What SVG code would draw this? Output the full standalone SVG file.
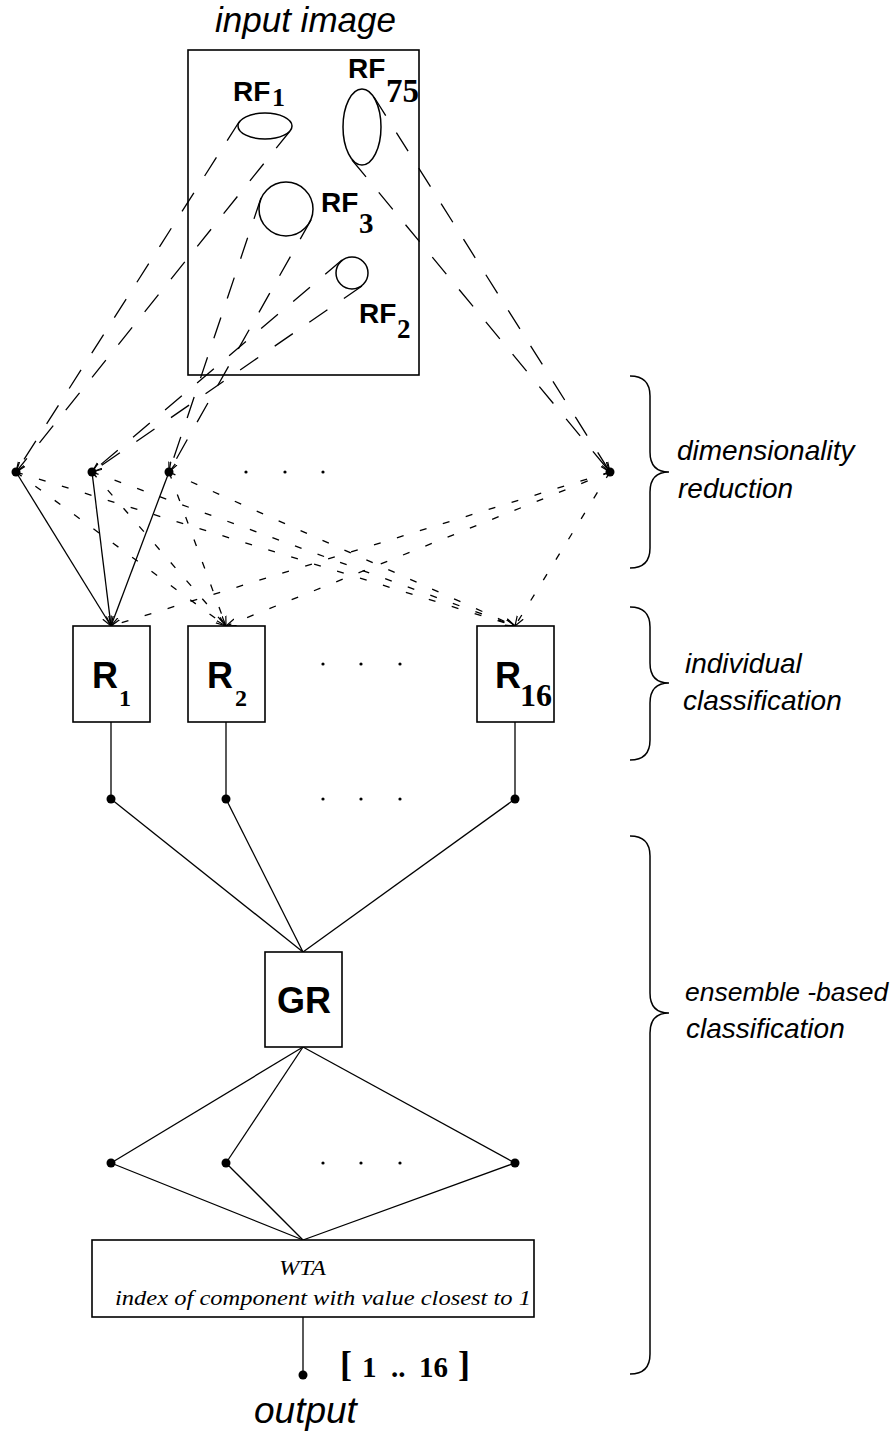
<svg xmlns="http://www.w3.org/2000/svg" width="896" height="1435" viewBox="0 0 896 1435">
<style>
.box{fill:#fff;stroke:#000;stroke-width:1.6}
.rf{fill:none;stroke:#000;stroke-width:1.5}
.ln{fill:none;stroke:#000;stroke-width:1.3}
.ld{fill:none;stroke:#000;stroke-width:1.3;stroke-dasharray:22 20}
.sd{fill:none;stroke:#000;stroke-width:1.3;stroke-dasharray:7 17}
.dot{fill:#000}
.sdot{fill:#000}
.brace{fill:none;stroke:#000;stroke-width:1.5}
.bsans{font-family:"Liberation Sans",Arial,sans-serif;font-weight:bold}
.bserif{font-family:"Liberation Serif","Times New Roman",serif;font-weight:bold}
.iserif{font-family:"Liberation Serif","Times New Roman",serif;font-style:italic}
.isans{font-family:"Liberation Sans",Arial,sans-serif;font-style:italic}
</style>
<defs>
<marker id="arr" viewBox="0 0 10 10" refX="10" refY="5" markerWidth="10" markerHeight="10" markerUnits="userSpaceOnUse" orient="auto">
<path d="M0,1.5 L10,5 L0,8.5" fill="none" stroke="#000" stroke-width="1.2" stroke-dasharray="none"/>
</marker>
</defs>
<rect width="896" height="1435" fill="#fff"/>

<g id="input-image">
<text class="isans" x="215" y="32" font-size="35">input image</text>
<rect class="box" x="188" y="50" width="231" height="325"/>
</g>
<g id="rf1">
<ellipse class="rf" cx="265" cy="126" rx="27" ry="13"/>
<text class="bsans" x="233" y="101" font-size="28">RF</text>
<text class="bserif" x="272" y="106" font-size="26">1</text>
</g>
<g id="rf75">
<ellipse class="rf" cx="362" cy="127" rx="19" ry="38"/>
<text class="bsans" x="348" y="78" font-size="28">RF</text>
<text class="bserif" x="386" y="102" font-size="33">75</text>
</g>
<g id="rf3">
<circle class="rf" cx="286" cy="209" r="27"/>
<text class="bsans" x="321" y="212" font-size="28">RF</text>
<text class="bserif" x="359" y="233" font-size="29">3</text>
</g>
<g id="rf2">
<circle class="rf" cx="352" cy="273" r="16"/>
<text class="bsans" x="359" y="323" font-size="28">RF</text>
<text class="bserif" x="397" y="338" font-size="27">2</text>
</g>

<g id="connectors">
<path class="ld" d="M239,122 L16,472" marker-end="url(#arr)"/>
<path class="ld" d="M290,131 L16,472" marker-end="url(#arr)"/>
<path class="ld" d="M261,198 L169,472" marker-end="url(#arr)"/>
<path class="ld" d="M311,220 L169,472" marker-end="url(#arr)"/>
<path class="ld" d="M342,260 L92,472" marker-end="url(#arr)"/>
<path class="ld" d="M362,286 L92,472" marker-end="url(#arr)"/>
<path class="ld" d="M374,97 L610,472" marker-end="url(#arr)"/>
<path class="ld" d="M352,160 L610,472" marker-end="url(#arr)"/>
<path class="ln" d="M16,472 L111,626" marker-end="url(#arr)"/>
<path class="ln" d="M92,472 L111,626" marker-end="url(#arr)"/>
<path class="ln" d="M169,472 L111,626" marker-end="url(#arr)"/>
<path class="sd" d="M16,472 L226,626" marker-end="url(#arr)"/>
<path class="sd" d="M16,472 L515,626" marker-end="url(#arr)"/>
<path class="sd" d="M92,472 L226,626" marker-end="url(#arr)"/>
<path class="sd" d="M92,472 L515,626" marker-end="url(#arr)"/>
<path class="sd" d="M169,472 L226,626" marker-end="url(#arr)"/>
<path class="sd" d="M169,472 L515,626" marker-end="url(#arr)"/>
<path class="sd" d="M610,472 L111,626" marker-end="url(#arr)"/>
<path class="sd" d="M610,472 L226,626" marker-end="url(#arr)"/>
<path class="sd" d="M610,472 L515,626" marker-end="url(#arr)"/>
<path class="ln" d="M111,722 L111,799"/>
<path class="ln" d="M226,722 L226,799"/>
<path class="ln" d="M515,722 L515,799"/>
<path class="ln" d="M111,799 L303,952"/>
<path class="ln" d="M226,799 L303,952"/>
<path class="ln" d="M515,799 L303,952"/>
<path class="ln" d="M303,1047 L111,1163"/>
<path class="ln" d="M303,1047 L226,1163"/>
<path class="ln" d="M303,1047 L515,1163"/>
<path class="ln" d="M111,1163 L303,1240"/>
<path class="ln" d="M226,1163 L303,1240"/>
<path class="ln" d="M515,1163 L303,1240"/>
<path class="ln" d="M303,1317 L303,1375"/>
</g>

<g id="projection-nodes">
<circle class="dot" cx="16" cy="472" r="4.5"/>
<circle class="dot" cx="92" cy="472" r="4.5"/>
<circle class="dot" cx="169" cy="472" r="4.5"/>
<circle class="dot" cx="610" cy="472" r="4.5"/>
<circle class="sdot" cx="246" cy="472" r="1.6"/>
<circle class="sdot" cx="285" cy="472" r="1.6"/>
<circle class="sdot" cx="323" cy="472" r="1.6"/>
</g>

<g id="R1">
<rect class="box" x="73" y="626" width="77" height="96"/>
<text class="bsans" x="92" y="688" font-size="36">R</text>
<text class="bserif" x="119" y="706" font-size="24">1</text>
</g>
<g id="R2">
<rect class="box" x="188" y="626" width="77" height="96"/>
<text class="bsans" x="207" y="688" font-size="36">R</text>
<text class="bserif" x="235" y="706" font-size="24">2</text>
</g>
<g id="R16">
<rect class="box" x="477" y="626" width="77" height="96"/>
<text class="bsans" x="495" y="688" font-size="36">R</text>
<text class="bserif" x="520" y="706" font-size="32">16</text>
</g>
<g id="R-ellipsis">
<circle class="sdot" cx="323" cy="664" r="1.6"/>
<circle class="sdot" cx="361" cy="664" r="1.6"/>
<circle class="sdot" cx="400" cy="664" r="1.6"/>
</g>

<g id="R-output-nodes">
<circle class="dot" cx="111" cy="799" r="4.5"/>
<circle class="dot" cx="226" cy="799" r="4.5"/>
<circle class="dot" cx="515" cy="799" r="4.5"/>
<circle class="sdot" cx="323" cy="799" r="1.6"/>
<circle class="sdot" cx="361" cy="799" r="1.6"/>
<circle class="sdot" cx="400" cy="799" r="1.6"/>
</g>

<g id="GR">
<rect class="box" x="265" y="952" width="77" height="95"/>
<text class="bsans" x="304" y="1013" font-size="36" text-anchor="middle">GR</text>
</g>

<g id="GR-output-nodes">
<circle class="dot" cx="111" cy="1163" r="4.5"/>
<circle class="dot" cx="226" cy="1163" r="4.5"/>
<circle class="dot" cx="515" cy="1163" r="4.5"/>
<circle class="sdot" cx="323" cy="1163" r="1.6"/>
<circle class="sdot" cx="361" cy="1163" r="1.6"/>
<circle class="sdot" cx="400" cy="1163" r="1.6"/>
</g>

<g id="WTA">
<rect class="box" x="92" y="1240" width="442" height="77"/>
<text class="iserif" x="279" y="1275" font-size="22" textLength="47" lengthAdjust="spacingAndGlyphs">WTA</text>
<text class="iserif" x="115" y="1305" font-size="22" textLength="416" lengthAdjust="spacingAndGlyphs">index of component with value closest to 1</text>
</g>

<g id="output">
<circle class="dot" cx="303" cy="1375" r="4.5"/>
<text class="bserif" x="340" y="1376" font-size="36">[</text>
<text class="bserif" y="1377" font-size="29"><tspan x="362">1</tspan><tspan x="391">..</tspan><tspan x="419">16</tspan></text>
<text class="bserif" x="458" y="1376" font-size="36">]</text>
<text class="isans" x="254" y="1423" font-size="37">output</text>
</g>

<g id="brace-dimensionality">
<path class="brace" d="M630,376 Q650,376 650,396 L650,452 Q650,472 669,472 Q650,472 650,492 L650,548 Q650,568 630,568"/>
<text class="isans" x="677" y="460" font-size="28">dimensionality</text>
<text class="isans" x="678" y="498" font-size="28">reduction</text>
</g>
<g id="brace-individual">
<path class="brace" d="M630,607 Q650,607 650,627 L650,663 Q650,683 669,683 Q650,683 650,703 L650,740 Q650,760 630,760"/>
<text class="isans" x="685" y="673" font-size="28">individual</text>
<text class="isans" x="683" y="710" font-size="28">classification</text>
</g>
<g id="brace-ensemble">
<path class="brace" d="M630,836 Q650,836 650,856 L650,993 Q650,1013 669,1013 Q650,1013 650,1033 L650,1354 Q650,1374 630,1374"/>
<text class="isans" x="685" y="1001" font-size="26.5">ensemble -based</text>
<text class="isans" x="686" y="1038" font-size="28">classification</text>
</g>
</svg>
